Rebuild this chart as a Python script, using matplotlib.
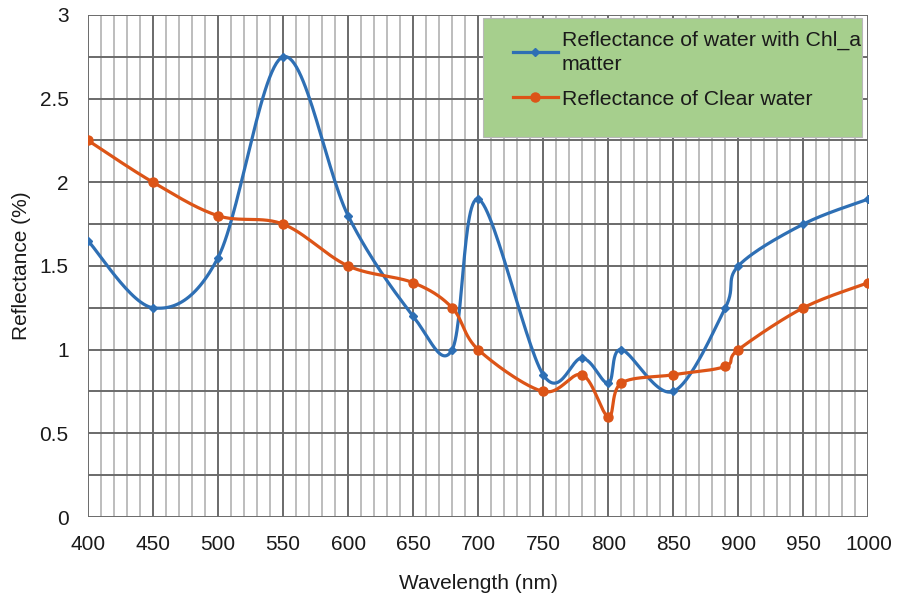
import numpy as np
import matplotlib.pyplot as plt
from matplotlib.patches import Rectangle
from matplotlib.lines import Line2D

plt.rcParams['font.family'] = ['Liberation Sans', 'DejaVu Sans']

# spectral reflectance readings -------------------------------
wavelength = [400, 450, 500, 550, 600, 650, 680, 700, 750, 780, 800, 810, 850, 890, 900, 950, 1000]
refl_chl = [1.65, 1.25, 1.55, 2.75, 1.8, 1.2, 1.0, 1.9, 0.85, 0.95, 0.8, 1.0, 0.75, 1.25, 1.5, 1.75, 1.9]
refl_clear = [2.25, 2.0, 1.8, 1.75, 1.5, 1.4, 1.25, 1.0, 0.75, 0.85, 0.6, 0.8, 0.85, 0.9, 1.0, 1.25, 1.4]

label_chl = 'Reflectance of water with Chl_a\nmatter'
label_clear = 'Reflectance of Clear water'

blue = '#2e6fb4'
orange = '#dc5417'


def smooth(x, y, n=30):
    # spreadsheet-style smoothed line: cubic bezier through each pair of points
    p = np.column_stack([x, y]).astype(float)
    p = np.vstack([p[0], p, p[-1]])
    out = []
    for i in range(1, len(p) - 2):
        p0, p1, p2, p3 = p[i - 1], p[i], p[i + 1], p[i + 2]
        c1 = p1 + (p2 - p0) / 6.0
        c2 = p2 - (p3 - p1) / 6.0
        t = np.linspace(0, 1, n)[:, None]
        seg = ((1 - t) ** 3) * p1 + 3 * ((1 - t) ** 2) * t * c1 + 3 * (1 - t) * t ** 2 * c2 + t ** 3 * p2
        out.append(seg if i == 1 else seg[1:])
    out = np.vstack(out)
    return out[:, 0], out[:, 1]


fig = plt.figure(figsize=(8.98, 5.97), dpi=100)
ax = fig.add_axes([0.098, 0.134, 0.869, 0.841])

ax.set_xlim(400, 1000)
ax.set_ylim(0, 3)
ax.set_xticks(np.arange(400, 1001, 50))
ax.set_xticks(np.arange(400, 1001, 10), minor=True)
ax.set_yticks([0, 0.5, 1, 1.5, 2, 2.5, 3])
ax.set_yticklabels(['0', '0.5', '1', '1.5', '2', '2.5', '3'])
ax.set_yticks(np.arange(0, 3.01, 0.25), minor=True)

ax.grid(which='major', color='#6a6a6a', linewidth=1.4, zorder=0)
ax.grid(which='minor', axis='x', color='#ababab', linewidth=1.1, zorder=0)
ax.grid(which='minor', axis='y', color='#6a6a6a', linewidth=1.4, zorder=0)
ax.set_axisbelow(True)

for s in ax.spines.values():
    s.set_visible(False)
ax.tick_params(which='both', length=0, labelsize=15, colors='#1a1a1a')
ax.tick_params(axis='x', pad=13)
ax.tick_params(axis='y', pad=14)

xs, ys = smooth(wavelength, refl_chl)
ax.plot(xs, ys, color=blue, lw=2.3, zorder=3)
ax.plot(wavelength, refl_chl, ls='none', marker='D', ms=4.5, color=blue, zorder=4)

xs, ys = smooth(wavelength, refl_clear)
ax.plot(xs, ys, color=orange, lw=2.3, zorder=3)
ax.plot(wavelength, refl_clear, ls='none', marker='o', ms=6.5, color=orange, zorder=4)

ax.set_xlabel('Wavelength (nm)', fontsize=15, color='#1a1a1a', labelpad=14)
ax.set_ylabel('Reflectance (%)', fontsize=15, color='#1a1a1a', labelpad=6)

# legend panel
ax.add_patch(Rectangle((0.506, 0.757), 0.486, 0.237, transform=ax.transAxes,
                       facecolor='#a6cf8d', edgecolor='#b8b8b8', lw=0.8, zorder=5))
handles = [Line2D([], [], color=blue, lw=2.3, marker='D', ms=4.5),
           Line2D([], [], color=orange, lw=2.3, marker='o', ms=6.5)]
leg = ax.legend(handles, [label_chl, label_clear], loc='upper left',
                bbox_to_anchor=(0.52, 1.006), frameon=False, fontsize=15.3,
                handlelength=2.1, handletextpad=0.2, labelspacing=0.75)
leg.set_zorder(6)
for t in leg.get_texts():
    t.set_color('#1a1a1a')
    t.set_linespacing(1.3)

fig.savefig('out.png', dpi=100)
